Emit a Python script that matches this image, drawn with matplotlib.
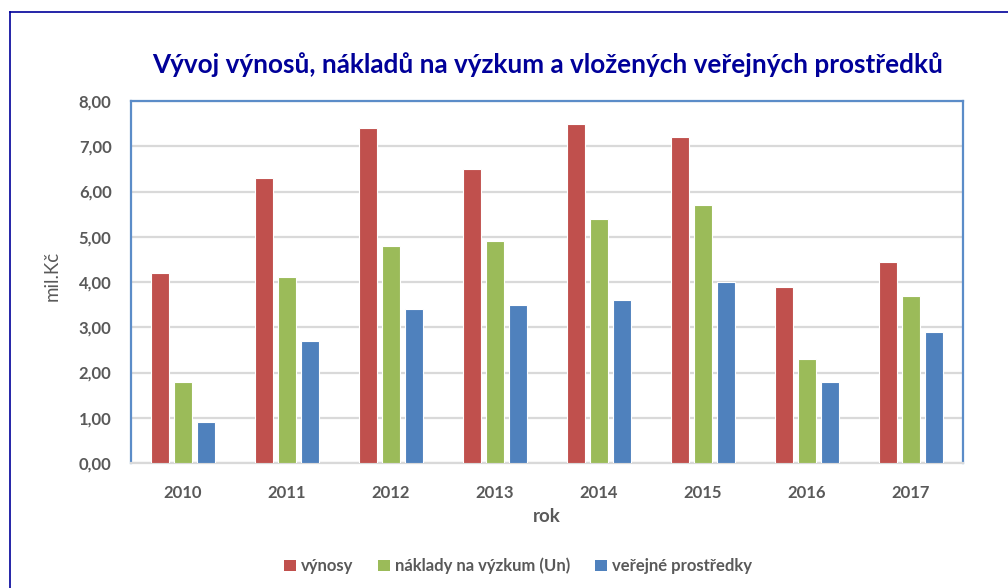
import matplotlib
matplotlib.use("Agg")
import matplotlib.pyplot as plt
import numpy as np
from matplotlib.patches import Patch
from matplotlib.lines import Line2D

years = ["2010", "2011", "2012", "2013", "2014", "2015", "2016", "2017"]
vynosy = [4.2, 6.3, 7.4, 6.5, 7.5, 7.2, 3.9, 4.45]
naklady = [1.8, 4.1, 4.8, 4.9, 5.4, 5.7, 2.3, 3.7]
verejne = [0.9, 2.7, 3.4, 3.5, 3.6, 4.0, 1.8, 2.9]
series_names = ["výnosy", "náklady na výzkum (Un)", "veřejné prostředky"]
yticks = [0, 1, 2, 3, 4, 5, 6, 7, 8]

colors = ["#C0504D", "#9BBB59", "#4F81BD"]
font = ["Lato", "DejaVu Sans"]
plt.rcParams["font.family"] = font

W, H = 1008, 588
fig = plt.figure(figsize=(W / 100, H / 100), dpi=100)
ax = fig.add_axes([131 / W, 1 - 463 / H, (963 - 131) / W, (463 - 101) / H])

x = np.arange(len(years))
bw = 0.175
off = 0.222
for i, (vals, c) in enumerate(zip([vynosy, naklady, verejne], colors)):
    ax.bar(x + (i - 1) * off, vals, width=bw, color=c, edgecolor="white",
           linewidth=0.8, zorder=3)

ax.set_xlim(-0.5, len(years) - 0.5)
ax.set_ylim(0, 8)
ax.set_yticks(yticks)
ax.set_yticklabels([f"{v:.2f}".replace(".", ",") for v in yticks])
ax.set_xticks(x)
ax.set_xticklabels(years)
ax.tick_params(length=0, labelsize=12, labelcolor="#595959", pad=14)
ax.tick_params(axis="x", pad=16)
for lab in ax.get_xticklabels() + ax.get_yticklabels():
    lab.set_fontweight("bold")
ax.grid(axis="y", color="#D9D9D9", linewidth=1.6, zorder=0)
for s in ["left", "top", "right"]:
    ax.spines[s].set_color("#5B8CC8")
    ax.spines[s].set_linewidth(1.6)
ax.spines["bottom"].set_color("#D9D9D9")
ax.spines["bottom"].set_linewidth(1.6)

fig.text(548 / W, 1 - 65 / H, "Vývoj výnosů, nákladů na výzkum a vložených veřejných prostředků",
         ha="center", va="center", fontsize=18.8, fontweight="bold", color="#000099")
fig.text(52 / W, 1 - 276 / H, "mil.Kč", rotation=90, ha="center", va="center",
         fontsize=13.5, color="#595959")
fig.text(547 / W, 1 - 517 / H, "rok", ha="center", va="center",
         fontsize=13.5, fontweight="bold", color="#595959")

handles = [Patch(facecolor=c, edgecolor="none") for c in colors]
leg = fig.legend(handles, series_names, loc="center", bbox_to_anchor=(518 / W, 1 - 566 / H),
                 ncol=3, frameon=False, handlelength=0.7, handleheight=0.7,
                 handletextpad=0.3, columnspacing=1.5, fontsize=12)
for t in leg.get_texts():
    t.set_color("#595959")
    t.set_fontweight("bold")

# outer chart frame
fig.add_artist(Line2D([9.5 / W, 9.5 / W], [0, 1 - 12 / H], color="#000099", linewidth=1.2,
                      transform=fig.transFigure))
fig.add_artist(Line2D([9.5 / W, 1], [1 - 12 / H, 1 - 12 / H], color="#000099", linewidth=1.2,
                      transform=fig.transFigure))

fig.savefig("out.png", dpi=100, facecolor="white")
